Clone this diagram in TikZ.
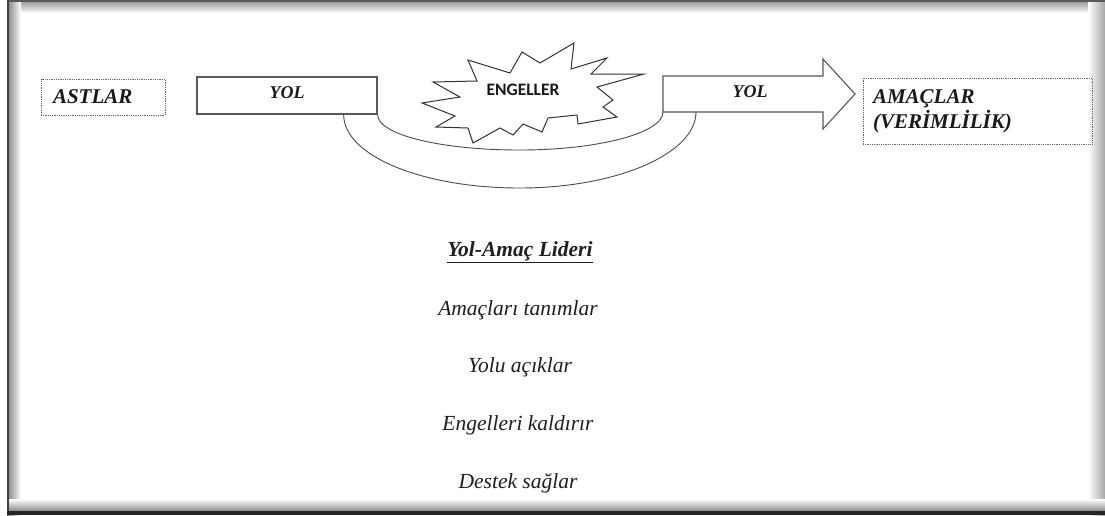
\documentclass[tikz,border=0pt]{standalone}
\usepackage{fontspec}
\setmainfont{Liberation Serif}
\newfontfamily\burstfont{Carlito}
\usetikzlibrary{calc}

\tikzset{
  lbl/.style={font=\fontsize{21}{25}\selectfont\bfseries\itshape, text=black!90},
  pathtxt/.style={font=\fontsize{18}{22}\selectfont\bfseries\itshape, text=black!90},
  dotbox/.style={draw=black!60, densely dotted, line width=0.8pt},
  roadbox/.style={draw=black!65, line width=1.3pt, fill=white},
  roadline/.style={draw=black!70, line width=0.9pt},
  listtxt/.style={font=\fontsize{21.5}{25}\selectfont\itshape, text=black!88},
  burst/.style={draw=black!80, line width=1pt, fill=white, line join=miter},
}

\begin{document}
\begin{tikzpicture}[x=1pt, y=-1pt]
  \useasboundingbox (0,0) rectangle (1105,515);
  \fill[white] (0,0) rectangle (1105,515);

  % framed panel with soft inner shadow
  \shade[top color=black!45, bottom color=white] (7,0) rectangle (1105,13);
  \shade[left color=black!50, right color=white] (7,0) rectangle (21,515);
  \shade[left color=white, right color=black!35] (1088,0) rectangle (1105,515);
  \shade[top color=white, bottom color=black!45] (7,499) rectangle (1105,511);
  \fill[black!65] (7,0) rectangle (1105,2);
  \fill[black!75] (7,0) rectangle (9,515);
  \fill[black!85] (7,511) rectangle (1105,515);

  % followers
  \node[dotbox, lbl, minimum width=124pt, minimum height=36pt,
        text width=100pt, inner xsep=12pt, align=left] (astlar) at (103,97) {ASTLAR};

  % first stretch of the path
  \node[roadbox, pathtxt, minimum width=180pt, minimum height=37pt] (yol1) at (287,95.5) {};
  \node[pathtxt] (yol1t) at (287,93) {YOL};

  % second stretch: block arrow towards the goals
  \coordinate (aNW) at (663,76);
  \coordinate (aN)  at (823,76);
  \coordinate (aHT) at (823,59);
  \coordinate (aTip) at (855,94);
  \coordinate (aHB) at (823,129);
  \coordinate (aS)  at (823,112);
  \coordinate (aSW) at (663,112);
  \draw[roadbox, line width=1.1pt, line join=miter]
    (aNW) -- (aN) -- (aHT) -- (aTip) -- (aHB) -- (aS) -- (aSW) -- cycle;
  \node[pathtxt] (yol2t) at (750,92) {YOL};

  % goals
  \node[dotbox, lbl, minimum width=229pt, minimum height=66pt,
        text width=209pt, inner xsep=10pt, align=left] (amac) at (977.5,111)
        {AMAÇLAR\\(VERİMLİLİK)};

  % detour around the obstacles
  \coordinate (iL) at (yol1.south east);
  \coordinate (iR) at (aSW);
  \coordinate (iB) at (519.5,150);
  \draw[roadline]
    (iL) .. controls ($(iL)+(0,20)$) and ($(iB)+(-79,0)$) .. (iB)
         .. controls ($(iB)+(79,0)$) and ($(iR)+(0,21)$) .. (iR);

  \coordinate (oL) at ($(yol1.south east)+(-34,0)$);
  \coordinate (oR) at ($(aSW)+(33,0)$);
  \coordinate (oB) at (519.5,188);
  \draw[roadline]
    (oL) .. controls ($(oL)+(0,41)$) and ($(oB)+(-97.5,0)$) .. (oB)
         .. controls ($(oB)+(97.5,0)$) and ($(oR)+(0,41.5)$) .. (oR);

  % obstacles
  \draw[burst]
    (422,103) -- (455,116) -- (436,127) -- (468,128) -- (473,143) -- (500,128)
    -- (513,135) -- (523,124) -- (542,132) -- (548,118) -- (577,115) -- (578,124)
    -- (617,117) -- (603,107) -- (613,100) -- (597,87) -- (644,74) -- (591,74)
    -- (607,58) -- (571,69) -- (574,43) -- (540,63) -- (522,52) -- (510,73)
    -- (468,60) -- (477,81) -- (433,82) -- (460,97) -- cycle;
  \node[font=\burstfont\fontsize{17.5}{20}\selectfont\bfseries, text=black!90] (engel) at (523,90) {ENGELLER};

  % leader's roles
  \node[listtxt, font=\fontsize{21.5}{25}\selectfont\bfseries\itshape] (lider) at (520,252) {\underline{Yol-Amaç Lideri}};
  \node[listtxt] (r1) at (518,310) {Amaçları tanımlar};
  \node[listtxt] (r2) at (520,367) {Yolu açıklar};
  \node[listtxt] (r3) at (518,425) {Engelleri kaldırır};
  \node[listtxt] (r4) at (518,483) {Destek sağlar};
\end{tikzpicture}
\end{document}
